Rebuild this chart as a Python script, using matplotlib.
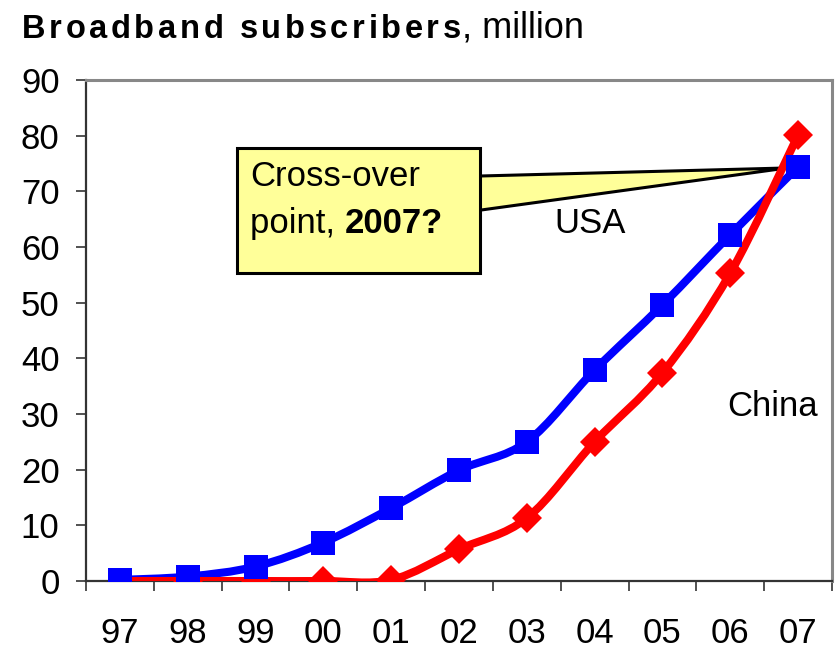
import numpy as np
import matplotlib
matplotlib.use("Agg")
import matplotlib.pyplot as plt
from matplotlib.path import Path
from matplotlib.patches import PathPatch, Polygon, Rectangle

plt.rcParams['font.family'] = ['Liberation Sans', 'DejaVu Sans']

# data
years = ['97', '98', '99', '00', '01', '02', '03', '04', '05', '06', '07']
usa = [0.2, 0.8, 2.6, 6.9, 13.1, 19.9, 25.0, 37.9, 49.6, 62.2, 74.4]
china = [0.0, 0.0, 0.0, 0.0, 0.2, 5.7, 11.3, 25.0, 37.4, 55.3, 80.1]

BLUE = '#0000ff'
RED = '#ff0000'


def smooth_path(xs, ys, t=1/6.):
    # excel-like smoothed line: catmull-rom as cubic bezier segments
    pts = np.column_stack([xs, ys]).astype(float)
    n = len(pts)
    verts = [pts[0]]
    codes = [Path.MOVETO]
    for i in range(n - 1):
        p0 = pts[max(i - 1, 0)]
        p1 = pts[i]
        p2 = pts[i + 1]
        p3 = pts[min(i + 2, n - 1)]
        verts += [p1 + (p2 - p0) * t, p2 - (p3 - p1) * t, p2]
        codes += [Path.CURVE4] * 3
    return Path(verts, codes)


fig = plt.figure(figsize=(8.4, 6.49), dpi=100)
ax = fig.add_axes((86/840, 1 - 581/649, 746/840, 501/649))

x = np.arange(len(years))

ax.add_patch(PathPatch(smooth_path(x, usa), fill=False, edgecolor=BLUE,
                       lw=5.8, capstyle='round', joinstyle='round', zorder=3))
ax.add_patch(PathPatch(smooth_path(x, china), fill=False, edgecolor=RED,
                       lw=5.8, capstyle='round', joinstyle='round', zorder=3.1))
# the 97 china marker is hidden behind the usa one in the original
ax.plot(x[1:], china[1:], 'D', color=RED, ms=15.5, mew=0, zorder=4)
ax.plot(x, usa, 's', color=BLUE, ms=17.5, mew=0, zorder=4.1)

ax.set_xlim(-0.5, len(years) - 0.5)
ax.set_ylim(0, 90)
ax.set_yticks(range(0, 91, 10))
ax.set_xticks(x)
ax.set_xticklabels(years)
ax.set_xticks(np.arange(-0.5, len(years), 1), minor=True)
ax.tick_params(axis='x', which='major', length=0, pad=26, labelsize=25)
ax.tick_params(axis='x', which='minor', length=7, width=1.2, color='#333333',
               direction='out')
ax.tick_params(axis='y', length=7, width=1.2, color='#333333', pad=12,
               labelsize=25)

for s in ['left', 'bottom']:
    ax.spines[s].set_color('#333333')
    ax.spines[s].set_linewidth(1.6)
for s in ['top', 'right']:
    ax.spines[s].set_color('#888888')
    ax.spines[s].set_linewidth(2.2)

# callout
ax.add_patch(Polygon([(5.3, 72.75), (9.84, 74.2), (5.3, 66.6)], closed=True,
                     facecolor='#ffff99', edgecolor='black', lw=2.2,
                     joinstyle='miter', zorder=2.5))
ax.add_patch(Rectangle((1.73, 55.3), 5.31 - 1.73, 77.8 - 55.3,
                       facecolor='#ffff99', edgecolor='black', lw=2.2,
                       zorder=2.6))
ax.text(1.92, 72.6, 'Cross-over', fontsize=25, va='center', ha='left',
        zorder=5)
t1 = ax.text(1.92, 64.3, 'point, ', fontsize=25, va='center', ha='left',
             zorder=5)
ax.annotate('2007?', xy=(1, 0), xycoords=t1, fontsize=25,
            fontweight='bold', va='bottom', ha='left', zorder=5)

ax.text(6.93, 64.3, 'USA', fontsize=25, ha='center', va='center')
ax.text(9.62, 31.3, 'China', fontsize=25, ha='center', va='center')

# title, bold part letter-spaced
bold_part = 'Broadband subscribers'
prev = ax.annotate(bold_part[0], xy=(22/840, 1 - 38/649),
                   xycoords='figure fraction', fontsize=23.5,
                   fontweight='bold', va='baseline', ha='left',
                   annotation_clip=False)
for ch in bold_part[1:]:
    prev = ax.annotate(ch, xy=(1, 0), xycoords=prev, xytext=(2.6, 0),
                       textcoords='offset points', fontsize=23.5,
                       fontweight='bold', va='bottom', ha='left',
                       annotation_clip=False)
ax.annotate(', million', xy=(1, 0), xycoords=prev, xytext=(1, 0),
            textcoords='offset points', fontsize=26, va='bottom', ha='left',
            annotation_clip=False)

fig.savefig('out.png', dpi=100)
